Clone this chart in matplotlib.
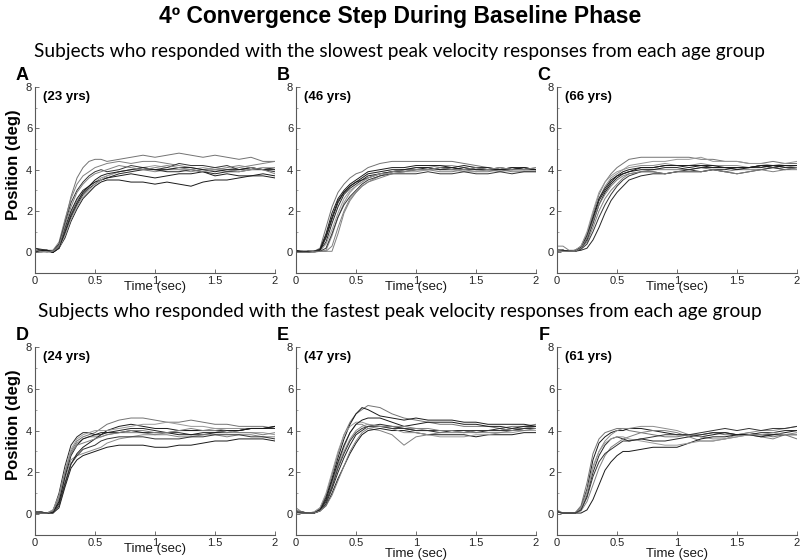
import matplotlib.pyplot as plt
from matplotlib.ticker import MultipleLocator

t = [0, 0.05, 0.1, 0.15, 0.2, 0.25, 0.3, 0.35, 0.4, 0.45, 0.5, 0.55, 0.6, 0.7,
     0.8, 0.9, 1.0, 1.1, 1.2, 1.3, 1.4, 1.5, 1.6, 1.7, 1.8, 1.9, 2.0]

# A - slowest, 23 yrs
pos_a = [
    [0.1, 0.1, 0.05, 0.1, 0.4, 1.5, 2.7, 3.6, 4.1, 4.4, 4.5, 4.5, 4.4, 4.5, 4.6, 4.7, 4.6, 4.7, 4.8, 4.7, 4.6, 4.7, 4.6, 4.5, 4.6, 4.4, 4.4],
    [0.2, 0.1, 0.05, 0.0, 0.2, 0.7, 1.5, 2.1, 2.6, 2.9, 3.2, 3.4, 3.5, 3.5, 3.4, 3.4, 3.3, 3.4, 3.3, 3.2, 3.4, 3.5, 3.5, 3.6, 3.7, 3.7, 3.6],
    [0.0, 0.05, 0.1, 0.05, 0.3, 1.1, 1.9, 2.5, 2.9, 3.2, 3.4, 3.6, 3.7, 3.9, 4.0, 4.0, 3.9, 4.0, 4.0, 3.9, 4.0, 4.0, 3.9, 4.0, 4.0, 4.1, 4.0],
    [0.1, 0.1, 0.1, 0.0, 0.2, 0.9, 1.7, 2.3, 2.8, 3.1, 3.3, 3.5, 3.6, 3.8, 3.9, 4.0, 4.0, 3.9, 3.9, 4.0, 3.9, 3.8, 3.9, 3.9, 4.0, 4.0, 4.1],
    [0.0, 0.0, 0.1, 0.1, 0.5, 1.6, 2.6, 3.3, 3.7, 3.9, 4.1, 4.2, 4.3, 4.4, 4.3, 4.4, 4.4, 4.3, 4.2, 4.1, 4.0, 4.1, 4.0, 4.1, 4.2, 4.3, 4.4],
    [0.05, 0.1, 0.1, 0.0, 0.3, 1.2, 2.0, 2.6, 3.0, 3.2, 3.4, 3.5, 3.6, 3.7, 3.8, 3.7, 3.6, 3.7, 3.8, 3.8, 3.9, 3.7, 3.8, 3.7, 3.7, 3.8, 3.7],
    [0.1, 0.0, 0.05, 0.05, 0.2, 0.8, 1.6, 2.2, 2.7, 3.0, 3.3, 3.5, 3.7, 3.9, 4.0, 4.1, 4.2, 4.1, 4.0, 4.0, 4.1, 4.0, 4.0, 3.9, 4.0, 4.1, 4.1],
    [0.2, 0.15, 0.1, 0.05, 0.4, 1.4, 2.4, 3.0, 3.4, 3.7, 3.9, 4.0, 3.9, 4.0, 4.2, 4.1, 4.0, 4.1, 4.3, 4.2, 4.2, 4.1, 4.2, 4.0, 4.1, 4.0, 3.9],
    [0.0, 0.1, 0.1, 0.0, 0.2, 1.0, 1.8, 2.4, 2.9, 3.2, 3.5, 3.7, 3.8, 3.9, 4.0, 4.1, 4.0, 4.0, 4.1, 4.1, 4.0, 3.9, 4.0, 4.0, 4.1, 4.0, 4.0],
    [0.1, 0.05, 0.0, 0.05, 0.3, 1.3, 2.2, 2.9, 3.3, 3.6, 3.8, 3.9, 4.0, 4.2, 4.1, 4.0, 4.1, 4.2, 4.1, 4.0, 3.9, 4.0, 4.1, 4.2, 4.1, 4.0, 3.8],
]

# B - slowest, 46 yrs
pos_b = [
    [0, 0, 0.05, 0.05, 0.2, 1.2, 2.2, 2.9, 3.3, 3.6, 3.8, 3.9, 4.1, 4.3, 4.4, 4.4, 4.4, 4.4, 4.4, 4.4, 4.3, 4.2, 4.1, 4.0, 4.0, 4.1, 4.0],
    [0.1, 0.05, 0.05, 0.05, 0.1, 0.7, 1.6, 2.4, 2.9, 3.2, 3.4, 3.5, 3.7, 3.8, 3.9, 4.0, 4.0, 4.1, 4.0, 4.1, 4.0, 4.0, 4.0, 4.1, 4.0, 4.0, 4.0],
    [0, 0.05, 0.0, 0.05, 0.05, 0.1, 0.8, 1.7, 2.4, 2.9, 3.2, 3.4, 3.6, 3.8, 3.9, 4.0, 4.1, 4.1, 4.2, 4.2, 4.1, 4.0, 4.0, 3.9, 4.0, 4.0, 4.0],
    [0.05, 0.0, 0.05, 0.0, 0.1, 0.5, 1.4, 2.2, 2.8, 3.1, 3.3, 3.5, 3.6, 3.8, 3.9, 3.9, 4.0, 4.0, 4.1, 4.1, 4.0, 4.1, 4.0, 4.0, 4.1, 4.0, 4.0],
    [0, 0, 0.05, 0.05, 0.05, 0.05, 0.3, 1.2, 2.0, 2.6, 2.9, 3.2, 3.4, 3.7, 3.9, 4.0, 4.0, 4.0, 3.9, 3.9, 4.0, 3.9, 3.9, 4.0, 3.9, 3.9, 3.9],
    [0.05, 0.05, 0.0, 0.05, 0.15, 0.9, 1.9, 2.6, 3.0, 3.3, 3.5, 3.7, 3.9, 4.0, 4.1, 4.1, 4.2, 4.2, 4.2, 4.1, 4.2, 4.1, 4.1, 4.0, 4.1, 4.1, 4.0],
    [0.0, 0.05, 0.05, 0.0, 0.05, 0.4, 1.1, 1.9, 2.6, 3.0, 3.2, 3.4, 3.6, 3.8, 3.8, 3.9, 3.9, 4.0, 4.0, 4.0, 3.9, 3.9, 4.0, 4.1, 4.0, 4.0, 4.1],
    [0.05, 0.0, 0.05, 0.05, 0.05, 0.2, 0.9, 1.7, 2.3, 2.7, 3.0, 3.3, 3.5, 3.7, 3.8, 3.8, 3.8, 3.9, 3.8, 3.8, 3.9, 3.8, 3.8, 3.9, 3.8, 3.9, 3.9],
    [0, 0.05, 0.05, 0.05, 0.1, 0.8, 1.7, 2.5, 2.9, 3.2, 3.4, 3.6, 3.8, 3.9, 4.0, 4.0, 4.1, 4.1, 4.0, 4.0, 4.1, 4.0, 4.0, 4.0, 4.0, 4.1, 4.0],
    [0, 0, 0.0, 0.05, 0.05, 0.05, 0.05, 0.9, 1.9, 2.5, 2.9, 3.2, 3.4, 3.6, 3.8, 3.9, 4.0, 4.0, 4.1, 4.0, 4.0, 4.1, 4.0, 4.1, 4.0, 4.0, 4.1],
]

# C - slowest, 66 yrs
pos_c = [
    [0.1, 0.1, 0.05, 0.1, 0.3, 0.9, 1.9, 2.8, 3.4, 3.8, 4.1, 4.3, 4.5, 4.6, 4.6, 4.6, 4.6, 4.6, 4.5, 4.5, 4.4, 4.4, 4.3, 4.3, 4.4, 4.3, 4.3],
    [0.1, 0.1, 0.05, 0.05, 0.2, 0.7, 1.6, 2.5, 3.0, 3.4, 3.7, 3.9, 4.0, 4.1, 4.1, 4.2, 4.2, 4.1, 4.2, 4.1, 4.1, 4.1, 4.1, 4.2, 4.1, 4.2, 4.2],
    [0.05, 0.1, 0.05, 0.05, 0.3, 0.9, 1.8, 2.6, 3.2, 3.6, 3.8, 4.0, 4.1, 4.2, 4.2, 4.3, 4.2, 4.2, 4.3, 4.2, 4.2, 4.2, 4.1, 4.2, 4.2, 4.2, 4.1],
    [0.1, 0.05, 0.05, 0.05, 0.1, 0.2, 0.6, 1.2, 1.9, 2.5, 2.9, 3.2, 3.5, 3.7, 3.8, 3.8, 3.9, 3.9, 3.9, 4.0, 4.0, 4.1, 4.1, 4.2, 4.1, 4.2, 4.2],
    [0.3, 0.3, 0.1, 0.1, 0.2, 0.5, 1.2, 2.0, 2.6, 3.0, 3.3, 3.6, 3.8, 3.9, 4.0, 4.0, 4.0, 4.0, 4.1, 4.0, 3.9, 4.0, 4.0, 4.0, 4.1, 4.0, 4.0],
    [0.1, 0.1, 0.05, 0.1, 0.25, 0.8, 1.7, 2.6, 3.1, 3.5, 3.7, 3.8, 3.9, 4.0, 4.0, 4.1, 4.1, 4.0, 4.1, 4.1, 4.1, 4.0, 4.1, 4.1, 4.2, 4.1, 4.1],
    [0.1, 0.05, 0.05, 0.1, 0.3, 1.0, 2.0, 2.9, 3.4, 3.7, 3.9, 4.0, 4.2, 4.3, 4.4, 4.4, 4.5, 4.5, 4.6, 4.4, 4.4, 4.4, 4.3, 4.3, 4.2, 4.3, 4.4],
    [0.05, 0.1, 0.05, 0.05, 0.15, 0.4, 1.0, 1.7, 2.3, 2.8, 3.2, 3.5, 3.7, 3.9, 3.9, 3.8, 3.9, 4.0, 3.9, 4.0, 3.9, 3.8, 3.9, 4.0, 4.1, 4.0, 4.1],
    [0.1, 0.1, 0.05, 0.05, 0.2, 0.6, 1.4, 2.3, 2.9, 3.3, 3.6, 3.8, 3.9, 4.1, 4.1, 4.2, 4.2, 4.2, 4.2, 4.2, 4.1, 4.1, 4.1, 4.2, 4.2, 4.2, 4.2],
    [0.1, 0.05, 0.05, 0.05, 0.2, 0.7, 1.5, 2.3, 2.8, 3.2, 3.5, 3.7, 3.8, 3.9, 3.9, 3.8, 3.9, 3.9, 3.9, 4.0, 3.9, 3.8, 3.9, 4.0, 3.9, 4.0, 4.1],
]

# D - fastest, 24 yrs
pos_d = [
    [0.1, 0.1, 0.05, 0.2, 0.8, 2.0, 3.0, 3.5, 3.7, 3.8, 3.9, 4.1, 4.3, 4.5, 4.6, 4.6, 4.5, 4.4, 4.4, 4.5, 4.4, 4.3, 4.3, 4.2, 4.2, 4.2, 4.1],
    [0.05, 0.05, 0.05, 0.05, 0.3, 1.3, 2.2, 2.6, 2.8, 2.9, 3.0, 3.1, 3.2, 3.3, 3.3, 3.3, 3.2, 3.2, 3.3, 3.3, 3.4, 3.5, 3.5, 3.6, 3.6, 3.6, 3.5],
    [0.1, 0.05, 0.05, 0.1, 0.6, 1.7, 2.6, 2.8, 2.9, 3.0, 3.1, 3.2, 3.4, 3.6, 3.7, 3.8, 3.8, 3.9, 4.0, 4.0, 4.0, 4.1, 4.1, 4.1, 4.1, 4.1, 4.1],
    [0.05, 0.1, 0.05, 0.15, 1.0, 2.3, 3.3, 3.7, 3.9, 3.9, 3.8, 3.8, 3.9, 4.0, 4.1, 4.1, 4.0, 3.9, 3.9, 3.8, 3.8, 3.9, 3.9, 4.0, 4.1, 4.1, 4.1],
    [0.1, 0.1, 0.05, 0.1, 0.7, 1.9, 2.9, 3.4, 3.6, 3.7, 3.7, 3.7, 3.8, 3.9, 3.9, 3.9, 3.8, 3.8, 3.7, 3.7, 3.8, 3.8, 3.7, 3.8, 3.8, 3.7, 3.7],
    [0.05, 0.05, 0.05, 0.1, 0.5, 1.5, 2.4, 2.9, 3.2, 3.4, 3.6, 3.8, 4.0, 4.2, 4.3, 4.2, 4.1, 4.1, 4.0, 4.0, 4.0, 4.0, 4.0, 4.0, 4.1, 4.1, 4.2],
    [0.1, 0.05, 0.05, 0.2, 0.9, 2.1, 3.1, 3.6, 3.8, 3.9, 4.0, 4.0, 4.0, 4.1, 4.2, 4.3, 4.3, 4.4, 4.3, 4.2, 4.2, 4.1, 4.0, 3.9, 3.9, 3.9, 3.8],
    [0.05, 0.05, 0.05, 0.05, 0.4, 1.4, 2.4, 2.8, 3.1, 3.2, 3.3, 3.5, 3.6, 3.7, 3.7, 3.7, 3.6, 3.6, 3.6, 3.7, 3.7, 3.8, 3.8, 3.8, 3.7, 3.7, 3.6],
    [0.1, 0.1, 0.05, 0.1, 0.6, 1.8, 2.8, 3.3, 3.6, 3.7, 3.8, 3.9, 3.9, 3.9, 4.0, 3.9, 3.9, 3.9, 3.8, 3.8, 3.9, 3.9, 4.0, 4.0, 4.1, 4.1, 4.2],
    [0.05, 0.05, 0.05, 0.15, 0.8, 2.0, 2.9, 3.3, 3.4, 3.5, 3.6, 3.7, 3.8, 3.9, 4.0, 4.0, 3.9, 3.9, 4.0, 4.1, 4.0, 4.0, 3.9, 3.9, 3.9, 3.8, 3.9],
]

# E - fastest, 47 yrs
pos_e = [
    [0.2, 0.1, 0.05, 0.1, 0.3, 0.9, 1.9, 2.9, 3.8, 4.4, 4.8, 5.0, 5.2, 5.1, 4.8, 4.6, 4.5, 4.4, 4.3, 4.3, 4.2, 4.2, 4.2, 4.1, 4.2, 4.2, 4.3],
    [0.1, 0.1, 0.05, 0.05, 0.25, 0.8, 1.7, 2.7, 3.6, 4.3, 4.8, 5.1, 5.0, 4.7, 4.6, 4.5, 4.6, 4.5, 4.5, 4.5, 4.4, 4.4, 4.3, 4.3, 4.3, 4.3, 4.2],
    [0.1, 0.05, 0.05, 0.05, 0.2, 0.6, 1.4, 2.3, 3.0, 3.6, 4.0, 4.2, 4.3, 4.2, 4.2, 4.1, 4.1, 4.0, 4.0, 4.0, 3.9, 4.0, 4.0, 4.0, 4.1, 4.1, 4.2],
    [0.1, 0.1, 0.05, 0.05, 0.15, 0.5, 1.2, 2.0, 2.7, 3.3, 3.8, 4.0, 4.2, 4.3, 4.2, 4.1, 4.0, 4.0, 3.9, 4.0, 4.0, 3.9, 4.0, 4.1, 4.0, 4.1, 4.1],
    [0.3, 0.1, 0.05, 0.05, 0.2, 0.7, 1.5, 2.4, 3.2, 3.9, 4.3, 4.3, 4.1, 4.0, 3.8, 3.3, 3.7, 3.8, 3.9, 3.9, 3.9, 4.0, 4.0, 4.0, 4.1, 4.1, 4.2],
    [0.1, 0.05, 0.05, 0.05, 0.15, 0.4, 1.0, 1.7, 2.3, 2.9, 3.4, 3.8, 4.0, 4.1, 4.0, 4.0, 3.9, 3.8, 3.8, 3.8, 3.8, 3.7, 3.8, 3.8, 3.8, 3.9, 3.9],
    [0.15, 0.1, 0.05, 0.1, 0.3, 1.0, 2.0, 3.0, 3.8, 4.2, 4.4, 4.4, 4.3, 4.2, 4.1, 3.9, 3.9, 3.8, 3.7, 3.7, 3.7, 3.8, 3.8, 3.9, 3.9, 4.0, 4.0],
    [0.1, 0.1, 0.05, 0.05, 0.2, 0.6, 1.3, 2.2, 2.9, 3.5, 3.9, 4.1, 4.2, 4.2, 4.1, 4.1, 4.0, 4.0, 4.0, 4.0, 4.0, 4.0, 4.0, 4.0, 4.0, 4.1, 4.1],
    [0.1, 0.05, 0.05, 0.05, 0.2, 0.7, 1.6, 2.5, 3.3, 3.9, 4.3, 4.5, 4.6, 4.6, 4.4, 4.2, 4.3, 4.4, 4.4, 4.4, 4.3, 4.3, 4.2, 4.2, 4.1, 4.2, 4.2],
    [0.05, 0.05, 0.05, 0.05, 0.15, 0.4, 0.9, 1.6, 2.3, 3.0, 3.5, 3.9, 4.1, 4.2, 4.2, 4.2, 4.1, 4.1, 4.0, 4.0, 3.9, 3.9, 3.9, 3.9, 4.0, 4.0, 4.1],
]

# F - fastest, 61 yrs
pos_f = [
    [0.1, 0.05, 0.05, 0.05, 0.4, 1.5, 2.9, 3.6, 3.9, 4.0, 4.1, 4.1, 4.0, 3.9, 3.8, 3.7, 3.7, 3.8, 3.8, 3.9, 3.8, 3.8, 3.9, 3.8, 3.7, 3.8, 3.6],
    [0.15, 0.05, 0.05, 0.05, 0.3, 1.2, 2.6, 3.4, 3.7, 3.9, 4.0, 4.0, 4.1, 4.1, 4.0, 3.9, 3.8, 3.8, 3.7, 3.8, 3.9, 3.8, 3.8, 3.8, 3.8, 3.9, 4.0],
    [0.1, 0.05, 0.05, 0.05, 0.3, 1.1, 2.3, 3.0, 3.5, 3.8, 4.0, 4.1, 4.1, 4.2, 4.2, 4.1, 4.0, 3.8, 3.7, 3.6, 3.6, 3.8, 3.9, 4.0, 4.0, 4.1, 4.2],
    [0.1, 0.05, 0.05, 0.05, 0.2, 0.9, 2.0, 2.8, 3.3, 3.6, 3.7, 3.6, 3.5, 3.6, 3.5, 3.5, 3.6, 3.7, 3.8, 3.9, 3.9, 3.8, 3.8, 3.9, 3.9, 4.0, 4.0],
    [0.2, 0.05, 0.05, 0.05, 0.15, 0.6, 1.4, 2.2, 2.8, 3.2, 3.4, 3.6, 3.7, 3.9, 4.0, 4.0, 3.9, 3.7, 3.5, 3.5, 3.6, 3.7, 3.8, 3.7, 3.6, 3.8, 3.9],
    [0.1, 0.05, 0.05, 0.05, 0.05, 0.2, 0.7, 1.4, 2.1, 2.5, 2.8, 3.0, 3.0, 3.1, 3.2, 3.2, 3.2, 3.4, 3.6, 3.7, 3.7, 3.8, 3.8, 3.7, 3.8, 3.8, 3.8],
    [0.1, 0.05, 0.05, 0.05, 0.25, 1.0, 2.2, 3.0, 3.4, 3.6, 3.7, 3.7, 3.6, 3.5, 3.4, 3.3, 3.3, 3.4, 3.5, 3.5, 3.6, 3.7, 3.8, 3.8, 3.9, 3.8, 3.8],
    [0.1, 0.05, 0.05, 0.05, 0.2, 0.8, 1.8, 2.5, 2.9, 3.1, 3.3, 3.5, 3.5, 3.6, 3.7, 3.8, 3.8, 3.8, 3.9, 4.0, 4.1, 4.0, 4.1, 4.0, 4.1, 4.1, 4.2],
]

letters = ['A', 'B', 'C', 'D', 'E', 'F']
ages = ['(23 yrs)', '(46 yrs)', '(66 yrs)', '(24 yrs)', '(47 yrs)', '(61 yrs)']
panels = [pos_a, pos_b, pos_c, pos_d, pos_e, pos_f]

plt.rcParams['font.family'] = ['Liberation Sans', 'DejaVu Sans']

fig = plt.figure(figsize=(8, 5.6), dpi=100)

fig.text(0.5, 1 - 17 / 560, '4º Convergence Step During Baseline Phase',
         ha='center', va='center', fontsize=16.5, fontweight='bold')
sub_font = ['Lato', 'DejaVu Sans']
fig.text(0.5, 1 - 52 / 560,
         'Subjects who responded with the slowest peak velocity responses from each age group',
         ha='center', va='center', fontsize=13.8, family=sub_font)
fig.text(0.5, 1 - 312 / 560,
         'Subjects who responded with the fastest peak velocity responses from each age group',
         ha='center', va='center', fontsize=13.8, family=sub_font)

lefts = [35, 296, 557]
row_box = [(87, 273), (347, 535)]  # top / bottom pixel of each row
line_cols = ['0.45', '0.1', '0.55', '0.15', '0.5', '0.1', '0.6', '0.2', '0.1', '0.5']

for i, traces in enumerate(panels):
    row, col = divmod(i, 3)
    top, bot = row_box[row]
    ax = fig.add_axes([lefts[col] / 800, 1 - bot / 560, 240 / 800, (bot - top) / 560])
    for j, y in enumerate(traces):
        ax.plot(t, y, color=line_cols[j % len(line_cols)], lw=0.7)
    ax.set_xlim(0, 2)
    ax.set_ylim(-1, 8)
    ax.set_xticks([0, 0.5, 1, 1.5, 2])
    ax.set_xticklabels(['0', '0.5', '1', '1.5', '2'])
    ax.set_yticks([0, 2, 4, 6, 8])
    ax.yaxis.set_minor_locator(MultipleLocator(1))
    ax.spines['top'].set_visible(False)
    ax.spines['right'].set_visible(False)
    for s in ['left', 'bottom']:
        ax.spines[s].set_color('0.35')
        ax.spines[s].set_linewidth(0.8)
    ax.tick_params(direction='in', length=3, width=0.6, color='0.35',
                   labelsize=8, labelcolor='0.15', pad=2)
    ax.tick_params(which='minor', direction='in', length=1.5, width=0.5, color='0.5')
    # top row and panel D: label sits over the "1" tick, as in the source figure
    pad = -3.5 if i < 4 else 0.5
    ax.set_xlabel('Time (sec)', fontsize=9.5, color='0.1', labelpad=pad)
    if col == 0:
        ax.set_ylabel('Position (deg)', fontsize=12, fontweight='bold')
        ax.yaxis.set_label_coords(-0.06, 0.585)
    ax.text(-0.055, 1.06, letters[i], transform=ax.transAxes, ha='center', va='center',
            fontsize=13, fontweight='bold')
    ax.text(0.07, 7.5, ages[i], ha='left', va='center', fontsize=9.5, fontweight='bold')

fig.savefig('out.png', dpi=100)
